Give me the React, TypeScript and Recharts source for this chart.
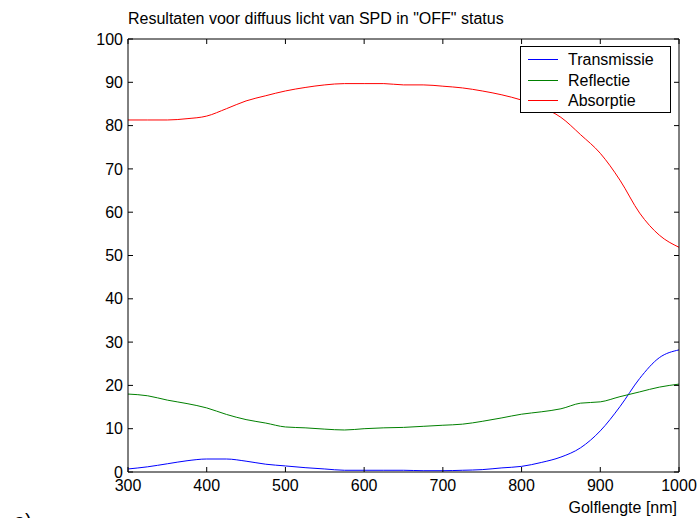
import React from 'react';
import { LineChart, Line, XAxis, YAxis, Legend } from 'recharts';

const wavelengths = [300, 325, 350, 375, 400, 425, 450, 475, 500, 525, 550, 575, 600, 625, 650, 675, 700, 725, 750, 775, 800, 825, 850, 875, 900, 925, 950, 975, 1000];
const transmissie = [0.7, 1.2, 1.9, 2.6, 3.0, 3.0, 2.5, 1.8, 1.4, 1.0, 0.7, 0.4, 0.4, 0.4, 0.4, 0.3, 0.3, 0.4, 0.55, 0.95, 1.3, 2.2, 3.45, 5.6, 9.5, 15.1, 21.6, 26.4, 28.2];
const reflectie = [18.0, 17.6, 16.6, 15.8, 14.8, 13.3, 12.1, 11.3, 10.4, 10.2, 9.9, 9.7, 10.0, 10.2, 10.3, 10.55, 10.8, 11.05, 11.7, 12.5, 13.35, 13.9, 14.6, 15.9, 16.2, 17.4, 18.5, 19.6, 20.3];
const absorptie = [81.3, 81.3, 81.3, 81.6, 82.2, 83.9, 85.7, 86.9, 88.0, 88.8, 89.4, 89.7, 89.7, 89.7, 89.4, 89.4, 89.1, 88.7, 88.0, 87.1, 85.9, 84.3, 81.9, 77.9, 73.6, 67.4, 59.8, 54.7, 51.9];

const xTicks = [300, 400, 500, 600, 700, 800, 900, 1000];
const yTicks = [0, 10, 20, 30, 40, 50, 60, 70, 80, 90, 100];

const seriesNames = ['Transmissie', 'Reflectie', 'Absorptie'];
const seriesColors = ['#0000ff', '#008000', '#ff0000'];
const titleText = 'Resultaten voor diffuus licht van SPD in "OFF" status';
const xLabelText = 'Golflengte [nm]';

const data = wavelengths.map((nm, i) => ({
  nm,
  transmissie: transmissie[i],
  reflectie: reflectie[i],
  absorptie: absorptie[i],
}));

const FONT = '"Liberation Sans", Arial, Helvetica, sans-serif';
const tickStyle = { fill: '#000', fontSize: 16, fontFamily: FONT };
const blank = () => '';

const renderLegend = (props: any) => {
  const items = [...(props.payload || [])].sort(
    (a: any, b: any) => seriesNames.indexOf(a.value) - seriesNames.indexOf(b.value)
  );
  return (
    <svg width={151} height={67} style={{ display: 'block' }}>
      <rect x={0.5} y={0.5} width={150} height={66} fill="#fff" stroke="#000" strokeWidth={1} />
      {items.map((it: any, i: number) => {
        const cy = Math.round(13 + i * 20.5) + 0.5;
        const idx = seriesNames.indexOf(it.value);
        const col = idx >= 0 ? seriesColors[idx] : it.color;
        return (
          <g key={i}>
            <line x1={8} x2={38} y1={cy} y2={cy} stroke={col} strokeWidth={1} />
            <text x={48} y={cy + 5.5} fontSize={16} fontFamily={FONT} fill="#000">
              {it.value}
            </text>
          </g>
        );
      })}
    </svg>
  );
};

export default function App() {
  return (
    <div style={{ position: 'absolute', left: 0, top: 0, width: 697, height: 518, background: '#fff' }}>
      <LineChart
        width={697}
        height={518}
        data={data}
        margin={{ top: 38, right: 17, bottom: 45, left: 127 }}
      >
        <XAxis
          xAxisId="bottom"
          dataKey="nm"
          type="number"
          domain={[300, 1000]}
          ticks={xTicks}
          interval={0}
          allowDataOverflow
          orientation="bottom"
          height={1}
          tickSize={-5}
          tickMargin={13}
          tick={tickStyle}
          axisLine={{ stroke: '#000' }}
          tickLine={{ stroke: '#000' }}
        />
        <XAxis
          xAxisId="top"
          dataKey="nm"
          type="number"
          domain={[300, 1000]}
          ticks={xTicks}
          interval={0}
          allowDataOverflow
          orientation="top"
          height={1}
          tickSize={-5}
          tickFormatter={blank}
          tick={tickStyle}
          axisLine={{ stroke: '#000' }}
          tickLine={{ stroke: '#000' }}
        />
        <YAxis
          yAxisId="left"
          type="number"
          domain={[0, 100]}
          ticks={yTicks}
          interval={0}
          allowDataOverflow
          orientation="left"
          width={1}
          tickSize={-5}
          tickMargin={10}
          tick={tickStyle}
          axisLine={{ stroke: '#000' }}
          tickLine={{ stroke: '#000' }}
        />
        <YAxis
          yAxisId="right"
          type="number"
          domain={[0, 100]}
          ticks={yTicks}
          interval={0}
          allowDataOverflow
          orientation="right"
          width={1}
          tickSize={-5}
          tickFormatter={blank}
          tick={tickStyle}
          axisLine={{ stroke: '#000' }}
          tickLine={{ stroke: '#000' }}
        />
        <Legend
          layout="vertical"
          align="center"
          verticalAlign="middle"
          content={renderLegend}
          wrapperStyle={{ left: 520, top: 46, width: 151, height: 67 }}
        />
        <Line
          xAxisId="bottom"
          yAxisId="left"
          dataKey="transmissie"
          name={seriesNames[0]}
          stroke={seriesColors[0]}
          strokeWidth={1}
          dot={false}
          type="monotone"
          isAnimationActive={false}
        />
        <Line
          xAxisId="bottom"
          yAxisId="left"
          dataKey="reflectie"
          name={seriesNames[1]}
          stroke={seriesColors[1]}
          strokeWidth={1}
          dot={false}
          type="monotone"
          isAnimationActive={false}
        />
        <Line
          xAxisId="bottom"
          yAxisId="left"
          dataKey="absorptie"
          name={seriesNames[2]}
          stroke={seriesColors[2]}
          strokeWidth={1}
          dot={false}
          type="monotone"
          isAnimationActive={false}
        />
      </LineChart>
      <svg
        width={697}
        height={518}
        style={{ position: 'absolute', left: 0, top: 0, pointerEvents: 'none' }}
      >
        <text x={128} y={24} fontSize={16} fontFamily={FONT} fill="#000">
          {titleText}
        </text>
        <text x={677} y={513} fontSize={16} fontFamily={FONT} fill="#000" textAnchor="end">
          {xLabelText}
        </text>
        <text x={14} y={528} fontSize={20} fontFamily={FONT} fill="#000">
          a)
        </text>
      </svg>
    </div>
  );
}
